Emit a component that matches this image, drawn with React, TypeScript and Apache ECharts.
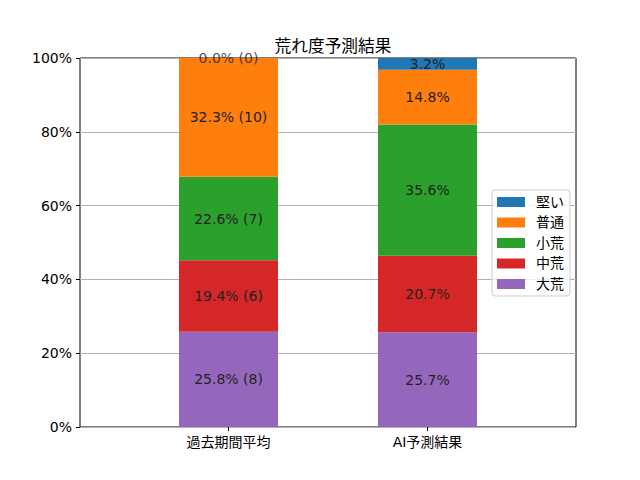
import React, { useEffect, useRef } from "react";
import * as echarts from "echarts";

const title = "荒れ度予測結果";
const categories = ["過去期間平均", "AI予測結果"];
const seriesNames = ["大荒", "中荒", "小荒", "普通", "堅い"];
const colors = ["#9467bd", "#d62728", "#2ca02c", "#ff7f0e", "#1f77b4"];
const pastPercent = [25.8, 19.4, 22.6, 32.3, 0.0];
const pastCounts = [8, 6, 7, 10, 0];
const aiPercent = [25.7, 20.7, 35.6, 14.8, 3.2];
const legendOrder = ["堅い", "普通", "小荒", "中荒", "大荒"];
const yTicks = [0, 20, 40, 60, 80, 100];

const FONT = "'DejaVu Sans', 'Noto Sans CJK JP', sans-serif";

export default function App() {
  const ref = useRef<HTMLDivElement>(null);
  useEffect(() => {
    if (!ref.current) return;
    const chart = echarts.init(ref.current, null, { renderer: "svg" });
    const labelText = (i: number, idx: number) =>
      idx === 0
        ? `${pastPercent[i].toFixed(1)}% (${pastCounts[i]})`
        : `${aiPercent[i].toFixed(1)}%`;
    const series: any[] = seriesNames.map((name, i) => ({
      name,
      type: "bar",
      stack: "total",
      xAxisIndex: 1,
      yAxisIndex: 1,
      barWidth: 99,
      itemStyle: { color: colors[i] },
      label: {
        show: true,
        position: "inside",
        color: "#222",
        fontFamily: FONT,
        fontSize: 14,
        formatter: (p: any) => labelText(i, p.dataIndex),
      },
      data: [pastPercent[i], aiPercent[i]],
    }));
    // labels for zero-height segments (drawn at their stacked position)
    const zeroLabels: any[] = [];
    [pastPercent, aiPercent].forEach((arr, idx) => {
      let cum = 0;
      arr.forEach((v, i) => {
        if (v === 0) zeroLabels.push({ value: [idx, Math.min(cum, 100)], i, idx });
        cum += v;
      });
    });
    series.push({
      name: "zero",
      type: "scatter",
      xAxisIndex: 1,
      yAxisIndex: 1,
      symbol: "circle",
      symbolSize: 2,
      clip: false,
      itemStyle: { color: "rgba(0,0,0,0)" },
      silent: true,
      label: {
        show: true,
        position: "inside",
        color: "#222",
        fontFamily: FONT,
        fontSize: 14,
        formatter: (p: any) => labelText(p.data.i, p.data.idx),
      },
      labelLayout: { hideOverlap: false },
      data: zeroLabels,
      z: 5,
    });
    chart.setOption({
      animation: false,
      backgroundColor: "#fff",
      title: {
        text: title,
        left: 328,
        top: 33,
        textAlign: "center",
        textStyle: { fontFamily: FONT, fontSize: 16.7, fontWeight: "normal", color: "#000" },
      },
      legend: {
        orient: "vertical",
        left: 492,
        top: 190,
        data: legendOrder,
        itemWidth: 28,
        itemHeight: 10,
        itemGap: 6.5,
        padding: [5, 6, 5, 5],
        borderColor: "#ccc",
        borderWidth: 1,
        borderRadius: 3,
        backgroundColor: "rgba(255,255,255,0.8)",
        textStyle: { fontFamily: FONT, fontSize: 14, color: "#000", padding: [0, 0, 0, 6] },
        icon: "rect",
      },
      grid: [
        { left: 80, right: 64, top: 58, bottom: 53, show: true, borderColor: "#000", borderWidth: 1, backgroundColor: "transparent" },
        { left: 129, width: 398, top: 58, bottom: 53 },
      ],
      xAxis: [
        { type: "value", gridIndex: 0, min: 0, max: 1, show: false },
        {
          type: "category",
          gridIndex: 1,
          data: categories,
          axisLine: { show: false },
          axisTick: { show: true, alignWithLabel: true, length: 4, lineStyle: { color: "#000" } },
          axisLabel: { fontFamily: FONT, fontSize: 14, color: "#000", margin: 8 },
        },
      ],
      yAxis: [
        {
          type: "value",
          gridIndex: 0,
          min: 0,
          max: 100,
          interval: 20,
          axisLine: { show: false },
          axisTick: { show: true, length: 4, lineStyle: { color: "#000" } },
          axisLabel: { fontFamily: FONT, fontSize: 14, color: "#000", margin: 8, formatter: (v: number) => (yTicks.includes(v) ? `${v}%` : "") },
          splitLine: { show: true, lineStyle: { color: "#b0b0b0", width: 1 } },
        },
        { type: "value", gridIndex: 1, min: 0, max: 100, show: false },
      ],
      series,
    });
    return () => chart.dispose();
  }, []);
  return <div ref={ref} style={{ width: 640, height: 480, margin: -8 }} />;
}
